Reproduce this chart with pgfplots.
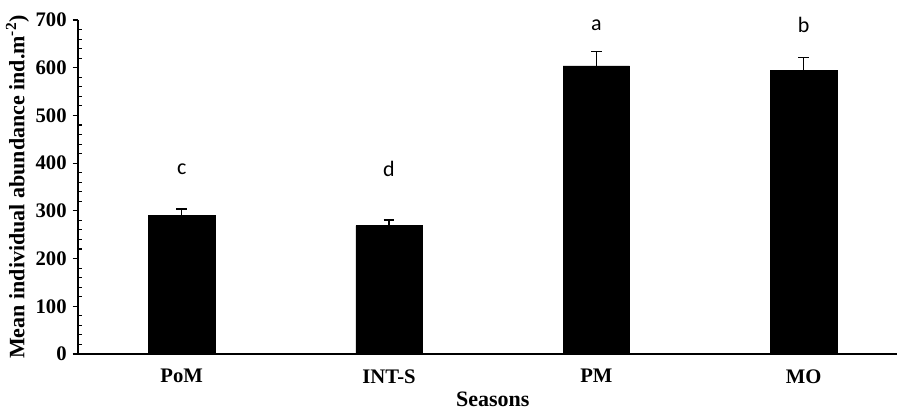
\documentclass[border=0pt]{standalone}
\usepackage{pgfplots}
\pgfplotsset{compat=1.18}
\usepackage{fontspec}
\setmainfont{Liberation Serif}
\newfontfamily\calib{Carlito}
\begin{document}
\begin{tikzpicture}[x=1pt,y=1pt]
\begin{axis}[
  scale only axis,
  width=614.25pt, height=250.5pt,
  xmin=-0.5, xmax=3.45,
  ymin=0, ymax=700,
  axis x line=bottom, axis y line=left,
  axis line style={black, line width=0.9pt, -},
  xtick={0,1,2,3},
  xticklabels={PoM,INT-S,PM,MO},
  x tick style={draw=none},
  ytick={0,100,...,700},
  minor y tick num=4,
  y tick style={black, line width=0.8pt},
  major tick length=4pt,
  minor tick length=3pt,
  ytick align=outside,
  minor y tick style={/pgfplots/tick align=inside},
  tick label style={font=\bfseries\fontsize{15.5}{16}\selectfont},
  /pgf/number format/assume math mode=true,
  yticklabel style={xshift=-1pt},
  xticklabel style={yshift=-6pt},
  ylabel={Mean individual abundance ind.m\textsuperscript{-2})},
  ylabel style={font=\bfseries\fontsize{16.5}{17}\selectfont, yshift=-2pt},
  xlabel={Seasons},
  xlabel style={font=\bfseries\fontsize{16.5}{17}\selectfont, yshift=0.5pt, xshift=4pt},
  clip=false,
]
\addplot[ybar, bar width=0.32, fill=black, draw=black,
  error bars/.cd, y dir=plus, y explicit,
  error bar style={line width=0.9pt, black},
  error mark options={rotate=90, mark size=4pt, line width=0.9pt}]
  coordinates {
  (0,290) +- (0,14)
  (1,269) +- (0,12)
  (2,604) +- (0,30)
  (3,594) +- (0,27)
  };
\addplot[only marks, mark=none, nodes near coords, point meta=explicit symbolic,
  nodes near coords style={font=\calib\fontsize{16.5}{17}\selectfont, anchor=center}]
  table[meta=l] {
  x y l
  0 388 c
  1 388 d
  2 690 a
  3 690 b
  };
\end{axis}
\pgfresetboundingbox
\path (current axis.south west) ++(-58.5pt,-44.25pt) coordinate (bl);
\path (current axis.north east) ++(0pt,15pt) coordinate (tr);
\useasboundingbox (bl) rectangle (tr);
\end{tikzpicture}
\end{document}
